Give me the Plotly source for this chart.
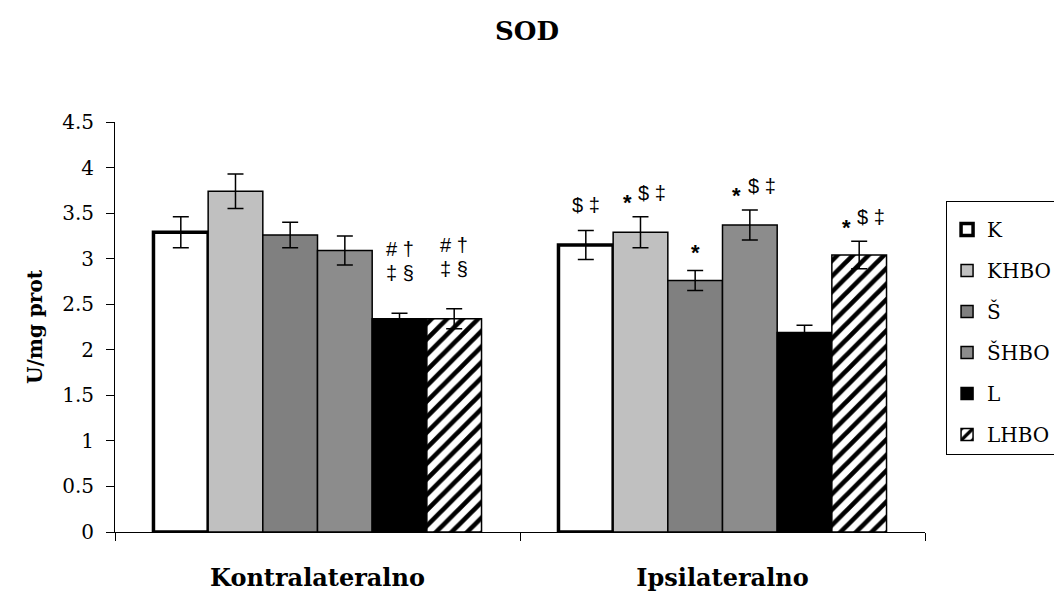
import plotly.graph_objects as go

# SOD activity (U/mg prot), mean and error per group and side
sides = ["Kontralateralno", "Ipsilateralno"]
groups = ["K", "KHBO", "Š", "ŠHBO", "L", "LHBO"]
mean_contra = [3.29, 3.74, 3.26, 3.09, 2.34, 2.34]
mean_ipsi = [3.15, 3.29, 2.76, 3.37, 2.19, 3.04]
err_contra = [0.17, 0.19, 0.14, 0.16, 0.06, 0.11]
err_ipsi = [0.16, 0.17, 0.11, 0.165, 0.08, 0.15]

# significance marks: (side index, group index, asterisk, superscript marks)
marks = [
    (0, 4, "", "# †|‡ §"),
    (0, 5, "", "# †|‡ §"),
    (1, 0, "", "$ ‡"),
    (1, 1, "*", "$ ‡"),
    (1, 2, "*", ""),
    (1, 3, "*", "$ ‡"),
    (1, 5, "*", "$ ‡"),
]

serif = "DejaVu Serif"
sans = "Liberation Sans"

styles = {
    "K": dict(color="white", line=dict(color="black", width=3.5)),
    "KHBO": dict(color="#c0c0c0", line=dict(color="black", width=1.5)),
    "Š": dict(color="#808080", line=dict(color="black", width=1.5)),
    "ŠHBO": dict(color="#999999", line=dict(color="black", width=1.5),
                 pattern=dict(shape=".", size=2, solidity=0.5,
                              fgcolor="#5a5a5a", bgcolor="#b4b4b4", fillmode="replace")),
    "L": dict(color="black", line=dict(color="black", width=1.5)),
    "LHBO": dict(color="white", line=dict(color="black", width=1.5),
                 pattern=dict(shape="/", size=11, solidity=0.42,
                              fgcolor="black", bgcolor="white", fillmode="replace")),
}

fig = go.Figure()
for i, g in enumerate(groups):
    fig.add_trace(go.Bar(
        name=g,
        x=sides,
        y=[mean_contra[i], mean_ipsi[i]],
        error_y=dict(type="data", array=[err_contra[i], err_ipsi[i]],
                     color="black", thickness=1.5, width=8),
        marker=styles[g],
        legendgroup=g,
    ))

bargap = 0.19
bw = (1 - bargap) / len(groups)
means = [mean_contra, mean_ipsi]
errs = [err_contra, err_ipsi]
annotations = []
for side, gi, star, sup in marks:
    xc = side + (gi - (len(groups) - 1) / 2) * bw
    top = means[side][gi] + errs[side][gi]
    if "|" in sup:
        lines = sup.split("|")
        for k, txt in enumerate(lines):
            annotations.append(dict(x=xc, y=top, text=txt, showarrow=False,
                                    yanchor="middle", yshift=64 - 24 * k,
                                    font=dict(family=sans, size=20, color="black")))
        continue
    if star and sup:
        annotations.append(dict(x=xc, y=top, text="<b>*</b>", showarrow=False,
                                yanchor="middle", xshift=-13, yshift=14,
                                font=dict(family=sans, size=22, color="black")))
        annotations.append(dict(x=xc, y=top, text=sup, showarrow=False,
                                yanchor="middle", xshift=12, yshift=24,
                                font=dict(family=sans, size=20, color="black")))
    elif star:
        annotations.append(dict(x=xc, y=top, text="<b>*</b>", showarrow=False,
                                yanchor="middle", yshift=18,
                                font=dict(family=sans, size=22, color="black")))
    else:
        annotations.append(dict(x=xc, y=top, text=sup, showarrow=False,
                                yanchor="middle", yshift=25,
                                font=dict(family=sans, size=20, color="black")))

fig.update_layout(
    width=1054, height=593,
    barmode="group", bargap=bargap, bargroupgap=0,
    plot_bgcolor="white", paper_bgcolor="white",
    margin=dict(l=115, r=129, t=122, b=61, autoexpand=False),
    title=dict(text="<b>SOD</b>", x=0.5, xanchor="center", y=0.948, yanchor="middle",
               font=dict(family=serif, size=26, color="black")),
    font=dict(family=serif, color="black"),
    legend=dict(x=1.026, y=0.807, xanchor="left", yanchor="top",
                bordercolor="black", borderwidth=1, bgcolor="white",
                font=dict(family=serif, size=20, color="black"),
                title=dict(text=" ", font=dict(size=6)),
                tracegroupgap=12, itemwidth=30),
    annotations=annotations,
    showlegend=True,
)
fig.update_xaxes(
    showline=True, linecolor="black", linewidth=1,
    ticks="outside", tickson="boundaries", ticklen=8, tickcolor="black", tickwidth=1,
    tickfont=dict(family=serif, size=24, color="black"),
    tickprefix="<b>", ticksuffix="</b>",
    ticklabelstandoff=24,
    showgrid=False,
)
fig.update_yaxes(
    range=[0, 4.5], dtick=0.5, tickformat=".1~f",
    showline=True, linecolor="black", linewidth=1,
    ticks="outside", ticklen=8, tickcolor="black", tickwidth=1,
    tickfont=dict(family=serif, size=20, color="black"),
    ticklabelstandoff=8,
    showgrid=False, zeroline=False,
    title=dict(text="<b>U/mg prot</b>", font=dict(family=serif, size=20, color="black"), standoff=14),
)

fig.write_html("out.html")
